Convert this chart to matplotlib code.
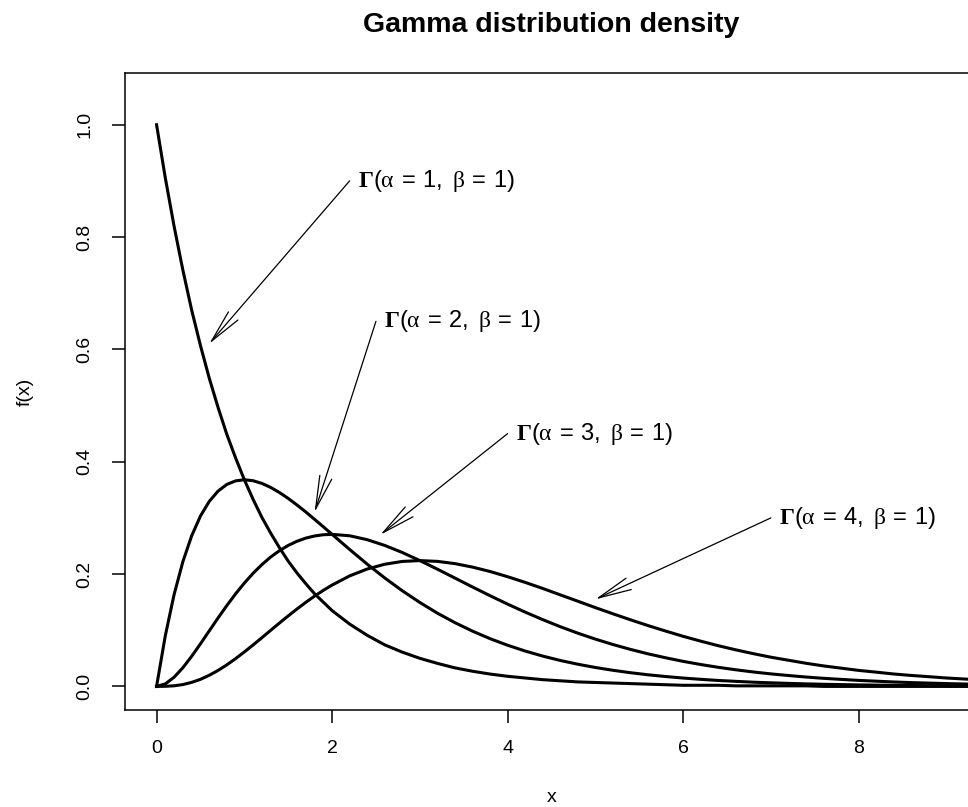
import matplotlib.pyplot as plt

plt.rcParams['font.family'] = ['Liberation Sans', 'DejaVu Sans']
plt.rcParams['mathtext.fontset'] = 'custom'
plt.rcParams['mathtext.rm'] = 'Liberation Sans'
plt.rcParams['mathtext.it'] = 'Liberation Serif'
plt.rcParams['mathtext.bf'] = 'Liberation Serif:bold'

# x grid the densities were read at
x = [0.0, 0.1, 0.2, 0.3, 0.4, 0.5, 0.6, 0.7, 0.8, 0.9,
     1.0, 1.1, 1.2, 1.3, 1.4, 1.5, 1.6, 1.7, 1.8, 1.9,
     2.0, 2.2, 2.4, 2.6, 2.8, 3.0, 3.2, 3.4, 3.6, 3.8,
     4.0, 4.2, 4.4, 4.6, 4.8, 5.0, 5.2, 5.4, 5.6, 5.8,
     6.0, 6.2, 6.4, 6.6, 6.8, 7.0, 7.2, 7.4, 7.6, 7.8,
     8.0, 8.2, 8.4, 8.6, 8.8, 9.0, 9.2, 9.4, 9.6, 9.8, 10.0]

dens_a1 = [1.000, 0.905, 0.819, 0.741, 0.670, 0.607, 0.549, 0.497, 0.449, 0.407,
           0.368, 0.333, 0.301, 0.273, 0.247, 0.223, 0.202, 0.183, 0.165, 0.150,
           0.135, 0.111, 0.091, 0.074, 0.061, 0.050, 0.041, 0.033, 0.027, 0.022,
           0.018, 0.015, 0.012, 0.010, 0.008, 0.007, 0.006, 0.005, 0.004, 0.003,
           0.002, 0.002, 0.002, 0.001, 0.001, 0.001, 0.001, 0.001, 0.000, 0.000,
           0.000, 0.000, 0.000, 0.000, 0.000, 0.000, 0.000, 0.000, 0.000, 0.000, 0.000]

dens_a2 = [0.0, 0.0905, 0.1637, 0.2222, 0.2681, 0.3033, 0.3293, 0.3476, 0.3595, 0.3659,
           0.3679, 0.3662, 0.3614, 0.3543, 0.3452, 0.3347, 0.3230, 0.3106, 0.2975, 0.2842,
           0.2707, 0.2438, 0.2177, 0.1931, 0.1703, 0.1494, 0.1304, 0.1135, 0.0984, 0.0850,
           0.0733, 0.0630, 0.0540, 0.0462, 0.0395, 0.0337, 0.0287, 0.0244, 0.0207, 0.0176,
           0.0149, 0.0126, 0.0106, 0.0090, 0.0075, 0.0064, 0.0054, 0.0045, 0.0038, 0.0032,
           0.0027, 0.0023, 0.0019, 0.0016, 0.0013, 0.0011, 0.0009, 0.0008, 0.0006, 0.0005, 0.0005]

dens_a3 = [0.0, 0.0045, 0.0164, 0.0333, 0.0536, 0.0758, 0.0988, 0.1217, 0.1438, 0.1647,
           0.1839, 0.2014, 0.2168, 0.2303, 0.2416, 0.2510, 0.2584, 0.2640, 0.2678, 0.2700,
           0.2707, 0.2682, 0.2612, 0.2510, 0.2384, 0.2240, 0.2087, 0.1929, 0.1770, 0.1615,
           0.1465, 0.1323, 0.1189, 0.1063, 0.0948, 0.0842, 0.0746, 0.0659, 0.0580, 0.0510,
           0.0446, 0.0390, 0.0340, 0.0296, 0.0257, 0.0223, 0.0194, 0.0167, 0.0144, 0.0125,
           0.0107, 0.0093, 0.0079, 0.0068, 0.0059, 0.0050, 0.0043, 0.0037, 0.0031, 0.0026, 0.0023]

dens_a4 = [0.0, 0.0002, 0.0011, 0.0033, 0.0072, 0.0126, 0.0198, 0.0284, 0.0383, 0.0494,
           0.0613, 0.0738, 0.0867, 0.0998, 0.1128, 0.1255, 0.1378, 0.1496, 0.1607, 0.1710,
           0.1804, 0.1967, 0.2090, 0.2175, 0.2225, 0.2240, 0.2226, 0.2186, 0.2124, 0.2046,
           0.1953, 0.1852, 0.1744, 0.1630, 0.1517, 0.1403, 0.1293, 0.1186, 0.1083, 0.0986,
           0.0892, 0.0806, 0.0725, 0.0651, 0.0583, 0.0520, 0.0466, 0.0412, 0.0365, 0.0325,
           0.0285, 0.0254, 0.0221, 0.0195, 0.0173, 0.0150, 0.0132, 0.0116, 0.0099, 0.0085, 0.0077]

labels = [r'$\mathbf{\Gamma}(\alpha\:=\:1,\ \beta\:=\:1)$',
          r'$\mathbf{\Gamma}(\alpha\:=\:2,\ \beta\:=\:1)$',
          r'$\mathbf{\Gamma}(\alpha\:=\:3,\ \beta\:=\:1)$',
          r'$\mathbf{\Gamma}(\alpha\:=\:4,\ \beta\:=\:1)$']
label_x = [2.2, 2.5, 4.0, 7.0]
label_y = [0.90, 0.65, 0.45, 0.30]
tip_x = [0.60, 1.80, 2.55, 5.00]
tip_y = [0.61, 0.31, 0.27, 0.155]

fig = plt.figure(figsize=(9.68, 8.07), dpi=100)
ax = fig.add_axes([0.1291, 0.1202, 0.8812, 0.7893])

for dens in [dens_a1, dens_a2, dens_a3, dens_a4]:
    ax.plot(x, dens, color='black', lw=2.2, solid_joinstyle='round')

# narrow open arrowheads like R's arrows()
for lab, lx, ly, tx, ty in zip(labels, label_x, label_y, tip_x, tip_y):
    ax.annotate('', xy=(tx, ty), xytext=(lx, ly),
                arrowprops=dict(arrowstyle='->,head_length=2.4,head_width=0.45',
                                lw=0.9, color='black', shrinkA=0, shrinkB=0,
                                mutation_scale=10))
    ax.annotate(lab, xy=(lx, ly), xytext=(6, 0), textcoords='offset points',
                ha='left', va='center', fontsize=17)

ax.set_xlim(-0.36, 9.36)
ax.set_ylim(-0.042, 1.092)
ax.set_xticks([0, 2, 4, 6, 8])
ax.set_yticks([0.0, 0.2, 0.4, 0.6, 0.8, 1.0])
ax.set_yticklabels(['0.0', '0.2', '0.4', '0.6', '0.8', '1.0'])
ax.tick_params(direction='out', length=9.5, width=1.1, labelsize=14)
ax.tick_params(axis='x', pad=12)
ax.tick_params(axis='y', pad=13)
plt.setp(ax.get_yticklabels(), rotation=90, va='center')
for sp in ax.spines.values():
    sp.set_linewidth(1.1)

fig.text(551.5 / 968, 1 - 32 / 807, 'Gamma distribution density',
         ha='center', va='baseline', fontsize=20.5, fontweight='bold')
fig.text(551.5 / 968, 1 - 797 / 807, 'x', ha='center', va='center', fontsize=14)
fig.text(25 / 968, 1 - 391.5 / 807, 'f(x)', ha='center', va='center',
         rotation=90, fontsize=14)

fig.savefig('out.png', dpi=100)
